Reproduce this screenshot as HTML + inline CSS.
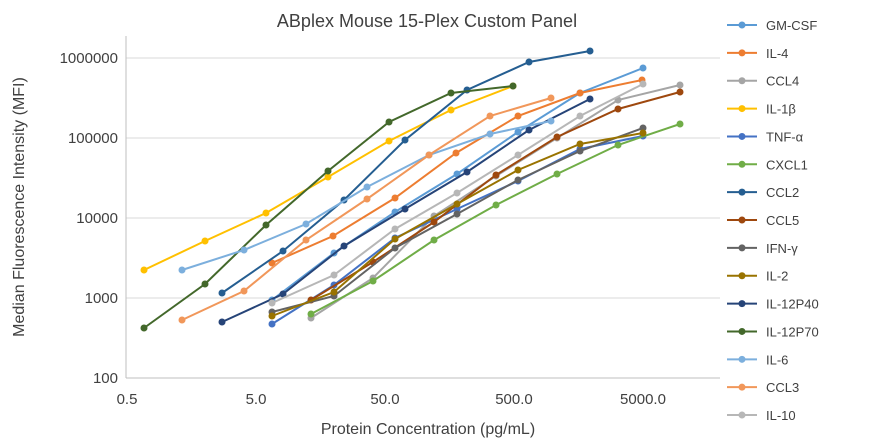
<!DOCTYPE html><html><head><style>body{margin:0;background:#fff}svg{display:block;font-family:"Liberation Sans",sans-serif}</style></head><body>
<svg width="888" height="447" viewBox="0 0 888 447">
<rect width="888" height="447" fill="#fff"/>
<text x="427" y="27" font-size="18" text-anchor="middle" fill="#404040">ABplex Mouse 15-Plex Custom Panel</text>
<g stroke="#d9d9d9" stroke-width="1">
<line x1="126" y1="58" x2="720" y2="58"/><line x1="126" y1="138" x2="720" y2="138"/><line x1="126" y1="218" x2="720" y2="218"/><line x1="126" y1="298" x2="720" y2="298"/>
<line x1="126" y1="378" x2="720" y2="378" stroke="#bfbfbf"/><line x1="126" y1="36" x2="126" y2="378" stroke="#bfbfbf"/></g>
<g font-size="15" fill="#404040" text-anchor="end">
<text x="118" y="63">1000000</text><text x="118" y="143">100000</text><text x="118" y="223">10000</text><text x="118" y="303">1000</text><text x="118" y="383">100</text></g>
<g font-size="15" fill="#404040" text-anchor="middle">
<text x="127" y="404">0.5</text><text x="256" y="404">5.0</text><text x="385" y="404">50.0</text><text x="514" y="404">500.0</text><text x="643" y="404">5000.0</text></g>
<text x="428" y="434" font-size="16" text-anchor="middle" fill="#404040">Protein Concentration (pg/mL)</text>
<text transform="translate(24,207) rotate(-90)" font-size="16" text-anchor="middle" fill="#404040">Median Fluorescence Intensity (MFI)</text>
<g fill="none" stroke-width="2" id="s"></g>
<g font-size="13" fill="#404040" id="lg"></g>
</svg>
<script>
var S=[["GM-CSF","#5B9BD5",[[272,300],[334,253],[395,212],[457,174],[518,132],[580,93],[643,68]]],
["IL-4","#ED7D31",[[272,263],[333,236],[395,198],[456,153],[518,116],[580,93],[642,80]]],
["CCL4","#A5A5A5",[[311,318],[373,278],[434,216],[496,176],[557,138],[618,100],[680,85]]],
["IL-1β","#FFC000",[[144,270],[205,241],[266,213],[328,177],[389,141],[451,110],[513,86]]],
["TNF-α","#4472C4",[[272,324],[334,285],[395,238],[457,209],[518,181],[580,149],[643,136]]],
["CXCL1","#70AD47",[[311,314],[373,281],[434,240],[496,205],[557,174],[618,145],[680,124]]],
["CCL2","#255E91",[[222,293],[283,251],[344,200],[405,140],[467,90],[529,62],[590,51]]],
["CCL5","#9E480E",[[311,300],[373,262],[434,222],[496,175],[557,137],[618,109],[680,92]]],
["IFN-γ","#636363",[[272,312],[334,296],[395,248],[457,214],[518,180],[580,151],[643,128]]],
["IL-2","#997300",[[272,316],[334,292],[395,239],[457,204],[518,170],[580,144],[643,133]]],
["IL-12P40","#264478",[[222,322],[283,294],[344,246],[405,209],[467,172],[529,130],[590,99]]],
["IL-12P70","#43682B",[[144,328],[205,284],[266,225],[328,171],[389,122],[451,93],[513,86]]],
["IL-6","#7CAFDD",[[182,270],[244,250],[306,224],[367,187],[429,155],[490,134],[551,121]]],
["CCL3","#F1975A",[[182,320],[244,291],[306,240],[367,199],[429,155],[490,116],[551,98]]],
["IL-10","#B7B7B7",[[272,303],[334,275],[395,229],[457,193],[518,155],[580,116],[643,84]]]];
var ns="http://www.w3.org/2000/svg",g=document.getElementById("s"),lg=document.getElementById("lg");
function el(t,a,p){var e=document.createElementNS(ns,t);for(var k in a)e.setAttribute(k,a[k]);p.appendChild(e);return e;}
S.forEach(function(s,i){el("polyline",{points:s[2].map(function(p){return p.join(",")}).join(" "),stroke:s[1]},g);
s[2].forEach(function(p){el("circle",{cx:p[0],cy:p[1],r:3.5,fill:s[1],stroke:"none"},g);});
var y=25+i*27.86;el("line",{x1:727,y1:y,x2:757,y2:y,stroke:s[1],"stroke-width":2},lg);el("circle",{cx:742,cy:y,r:3.5,fill:s[1]},lg);
var t=el("text",{x:766,y:y+5},lg);t.textContent=s[0];});
</script>
</body></html>
